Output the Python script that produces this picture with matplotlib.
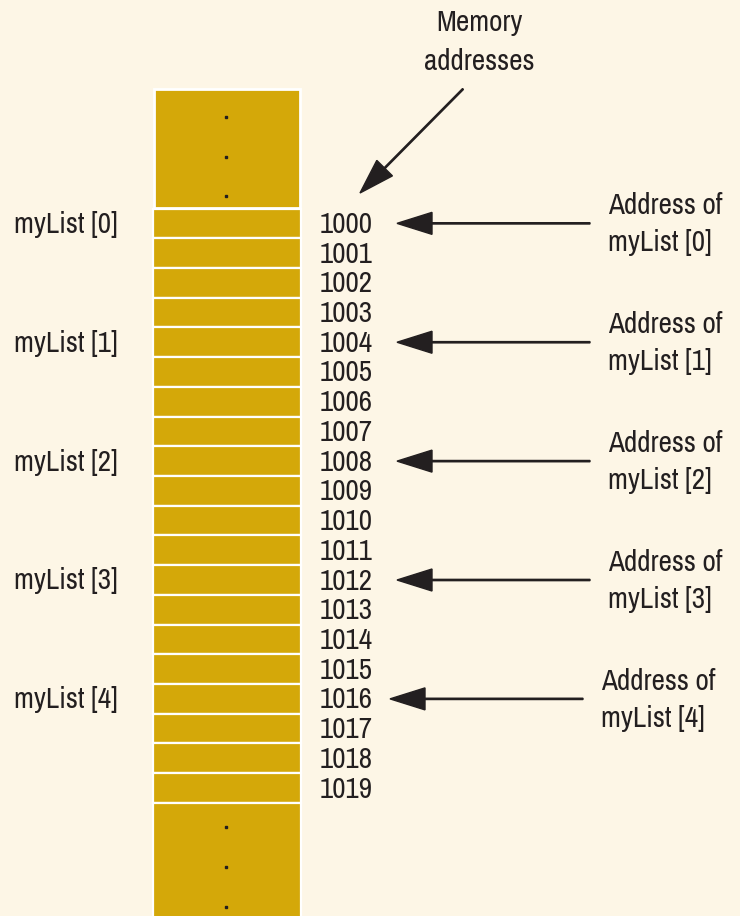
# memory layout of a list - each element takes 4 bytes
import matplotlib
matplotlib.use("Agg")
from matplotlib import pyplot as plt
from matplotlib import font_manager
from matplotlib.patches import Rectangle

# data
addresses = [1000, 1001, 1002, 1003, 1004, 1005, 1006, 1007, 1008, 1009,
             1010, 1011, 1012, 1013, 1014, 1015, 1016, 1017, 1018, 1019]
elements = ["myList [0]", "myList [1]", "myList [2]", "myList [3]", "myList [4]"]
element_addresses = [1000, 1004, 1008, 1012, 1016]


# pick a narrow font if one is installed, otherwise Roboto
def pick_font():
    fonts = [f for f in font_manager.fontManager.ttflist
             if f.style == "normal" and f.weight in (400, "normal", "regular", "book")]
    prefs = [lambda f: "narrow" in f.name.lower(),
             lambda f: "condensed" in f.name.lower(),
             lambda f: str(f.stretch) in ("condensed", "semi-condensed") and "Noto" in f.name,
             lambda f: str(f.stretch) in ("condensed", "semi-condensed")]
    for p in prefs:
        hits = [f for f in fonts if p(f)]
        if hits:
            return hits[0].fname, True
    return None, False


fpath, narrow = pick_font()
fsize = 21 if narrow else 17


def fp():
    if fpath:
        return font_manager.FontProperties(fname=fpath, size=fsize)
    return font_manager.FontProperties(family="Roboto", size=fsize)


# layout (pixel coords)
bg = "#fdf6e6"
gold = "#d4a809"
ink = "#231f20"
cell_x, cell_w = 153, 148
top = 208.5
pitch = 29.72

fig = plt.figure(figsize=(7.4, 9.16), dpi=100, facecolor=bg)
ax = fig.add_axes([0, 0, 1, 1])
ax.set_xlim(0, 740)
ax.set_ylim(916, 0)
ax.axis("off")
ax.set_facecolor(bg)

# top block with dots
ax.add_patch(Rectangle((cell_x + 1, 89), cell_w - 2, top - 90, facecolor=gold,
                       edgecolor="white", linewidth=2))
for dy in [117, 157, 196]:
    ax.plot(cell_x + cell_w / 2 - 1, dy, "s", color=ink, markersize=2)

# one cell per address
for i, a in enumerate(addresses):
    y = top + i * pitch
    ax.add_patch(Rectangle((cell_x, y), cell_w, pitch, facecolor=gold,
                           edgecolor="white", linewidth=1.6))
    ax.text(320, y + pitch / 2 + 1, str(a), fontproperties=fp(), color=ink,
            ha="left", va="center")

# bottom block with dots
bottom_y = top + len(addresses) * pitch
ax.add_patch(Rectangle((cell_x, bottom_y), cell_w, 916 - bottom_y + 5, facecolor=gold,
                       edgecolor="white", linewidth=1.6))
for dy in [827, 867, 907]:
    ax.plot(cell_x + cell_w / 2 - 1, dy, "s", color=ink, markersize=2)

# element labels and arrows
for k, (name, a) in enumerate(zip(elements, element_addresses)):
    i = addresses.index(a)
    yc = top + (i + 0.5) * pitch
    ax.text(14, yc + 1, name, fontproperties=fp(), color=ink, ha="left", va="center")
    shift = -7 if k == 4 else 0
    x_tip = 397 + shift
    x_end = 590 + shift
    ax.arrow(x_end, yc, x_tip - x_end, 0, width=1.3, head_width=22, head_length=35,
             length_includes_head=True, color=ink)
    ax.text(608 + shift, yc + 1, "Address of\n" + name, fontproperties=fp(),
            color=ink, ha="left", va="center", linespacing=1.45)

# header
ax.text(479, 42, "Memory\naddresses", fontproperties=fp(), color=ink,
        ha="center", va="center", linespacing=1.5)
ax.arrow(463, 89, 360 - 463, 193 - 89, width=1.3, head_width=22, head_length=35,
         length_includes_head=True, color=ink)

fig.savefig("out.png", dpi=100, facecolor=bg)
